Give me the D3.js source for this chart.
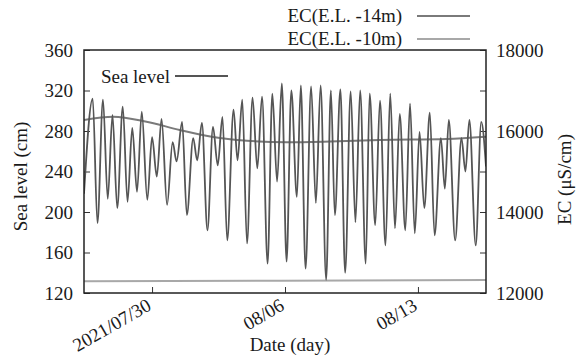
<!DOCTYPE html>
<html>
<head>
<meta charset="utf-8">
<script src="https://cdn.jsdelivr.net/npm/d3@7"></script>
<style>
  body { margin: 0; background: #fff; }
  svg { font-family: 'Liberation Serif', 'DejaVu Serif', serif; }
</style>
</head>
<body>
<svg id="chart" width="582" height="358"></svg>
<script>
// time axis: hours counted from the first sample
const startTime = '2021-07-26 10:00';
const endHour = 508;

// sea level, highs and lows of each tide (cm)
const tideHours = [0, 11, 17, 24, 30, 36, 42, 49, 55, 61, 67, 73, 80, 86, 92, 98, 105, 112, 117, 124,
  130, 138, 143, 149, 156, 163, 169, 175, 181, 189, 194, 200, 206, 213, 219, 225, 232, 238, 244, 250,
  256, 262, 269, 274, 280, 287, 293, 299, 306, 312, 317, 324, 330, 337, 343, 349, 356, 361, 368, 374,
  381, 387, 393, 399, 406, 412, 418, 424, 430, 437, 443, 451, 456, 461, 469, 477, 482, 487, 495, 502, 508];
const tideLevels = [218, 312, 189, 311, 213, 296, 204, 304, 210, 283, 220, 299, 212, 274, 235, 292, 207, 269, 250, 289,
  197, 273, 251, 288, 182, 284, 246, 294, 172, 301, 251, 311, 169, 313, 243, 314, 149, 317, 230, 327,
  151, 320, 215, 325, 144, 324, 209, 325, 133, 320, 197, 321, 140, 319, 190, 320, 149, 317, 187, 310,
  167, 317, 184, 297, 182, 307, 179, 279, 204, 298, 177, 273, 223, 291, 172, 273, 240, 291, 167, 289, 245];

// EC at E.L. -14m (uS/cm)
const ec14Hours = [0, 37, 79, 121, 163, 206, 256, 311, 374, 458, 508];
const ec14Values = [16272, 16353, 16229, 16025, 15852, 15760, 15721, 15740, 15778, 15802, 15859];

// EC at E.L. -10m (uS/cm)
const ec10Hours = [0, 250, 508];
const ec10Values = [12290, 12305, 12320];

const seaTicks = [120, 160, 200, 240, 280, 320, 360];
const ecTicks = [12000, 13000, 14000, 15000, 16000, 17000, 18000];
const dateTicks = ['2021-07-30', '2021-08-06', '2021-08-13'];
const dateLabels = ['2021/07/30', '08/06', '08/13'];

const margin = { top: 50, right: 96, bottom: 65, left: 84 };
const width = 582 - margin.left - margin.right;
const height = 358 - margin.top - margin.bottom;

const t0 = d3.timeParse('%Y-%m-%d %H:%M')(startTime);
const atHour = h => d3.timeHour.offset(t0, h);
const parseDay = d3.timeParse('%Y-%m-%d');

const svg = d3.select('#chart');

const x = d3.scaleTime()
  .domain([t0, atHour(endHour)])
  .range([margin.left, margin.left + width]);
const yL = d3.scaleLinear().domain([120, 360]).range([margin.top + height, margin.top]);
const yR = d3.scaleLinear().domain([12000, 18000]).range([margin.top + height, margin.top]);

svg.append('defs').append('clipPath').attr('id', 'plot')
  .append('rect')
  .attr('x', margin.left).attr('y', margin.top)
  .attr('width', width).attr('height', height);

// left axis
const gl = svg.append('g')
  .attr('transform', `translate(${margin.left},0)`)
  .call(d3.axisLeft(yL).tickValues(seaTicks).tickSize(-6).tickSizeOuter(0).tickPadding(11));

// right axis
const gr = svg.append('g')
  .attr('transform', `translate(${margin.left + width},0)`)
  .call(d3.axisRight(yR).tickValues(ecTicks).tickSize(-6).tickSizeOuter(0).tickPadding(10)
    .tickFormat(d => d % 2000 === 0 ? d : ''));

// bottom axis
const gb = svg.append('g')
  .attr('transform', `translate(0,${margin.top + height})`)
  .call(d3.axisBottom(x).tickValues(dateTicks.map(parseDay)).tickSize(-6).tickSizeOuter(0)
    .tickFormat((d, i) => dateLabels[i]));

gb.selectAll('text')
  .attr('x', 0).attr('y', 0).attr('dy', 0)
  .attr('text-anchor', 'end')
  .attr('transform', 'translate(0,16) rotate(-30)');

[gl, gr, gb].forEach(g => {
  g.select('.domain').remove();
  g.selectAll('text').attr('font-size', 19).attr('fill', '#1a1a1a')
    .attr('font-family', "'Liberation Serif', serif");
  g.selectAll('line').attr('stroke', '#333');
});

// series
const line = d3.line()
  .x(d => x(atHour(d[0])))
  .curve(d3.curveMonotoneX);

const plot = svg.append('g').attr('clip-path', 'url(#plot)');

plot.append('path')
  .datum(d3.zip(ec10Hours, ec10Values))
  .attr('fill', 'none').attr('stroke', '#a8a8a8').attr('stroke-width', 2)
  .attr('d', line.y(d => yR(d[1])));

plot.append('path')
  .datum(d3.zip(ec14Hours, ec14Values))
  .attr('fill', 'none').attr('stroke', '#7a7a7a').attr('stroke-width', 2)
  .attr('d', line.y(d => yR(d[1])));

plot.append('path')
  .datum(d3.zip(tideHours, tideLevels))
  .attr('fill', 'none').attr('stroke', '#555').attr('stroke-width', 1.8)
  .attr('d', line.y(d => yL(d[1])));

// frame
svg.append('rect')
  .attr('x', margin.left).attr('y', margin.top)
  .attr('width', width).attr('height', height)
  .attr('fill', 'none').attr('stroke', '#222').attr('stroke-width', 1.5);

// axis titles
svg.append('text')
  .attr('transform', `translate(27,${margin.top + height / 2 + 5}) rotate(-90)`)
  .attr('text-anchor', 'middle').attr('font-size', 19).attr('fill', '#1a1a1a')
  .text('Sea level (cm)');

svg.append('text')
  .attr('transform', `translate(571,${margin.top + height / 2 + 8}) rotate(-90)`)
  .attr('text-anchor', 'middle').attr('font-size', 19).attr('fill', '#1a1a1a')
  .text('EC (μS/cm)');

svg.append('text')
  .attr('x', 290).attr('y', 351)
  .attr('text-anchor', 'middle').attr('font-size', 19).attr('fill', '#1a1a1a')
  .text('Date (day)');

// legend
const legend = [
  { label: 'EC(E.L. -14m)', color: '#7a7a7a', tx: 402, ty: 22, x1: 417, x2: 470, y: 16 },
  { label: 'EC(E.L. -10m)', color: '#a8a8a8', tx: 402, ty: 45, x1: 417, x2: 470, y: 39 },
  { label: 'Sea level', color: '#555', tx: 170, ty: 83, x1: 175, x2: 228, y: 76 }
];

legend.forEach(d => {
  svg.append('text')
    .attr('x', d.tx).attr('y', d.ty)
    .attr('text-anchor', 'end').attr('font-size', 19).attr('fill', '#1a1a1a')
    .text(d.label);
  svg.append('line')
    .attr('x1', d.x1).attr('x2', d.x2).attr('y1', d.y).attr('y2', d.y)
    .attr('stroke', d.color).attr('stroke-width', 2);
});
</script>
</body>
</html>
